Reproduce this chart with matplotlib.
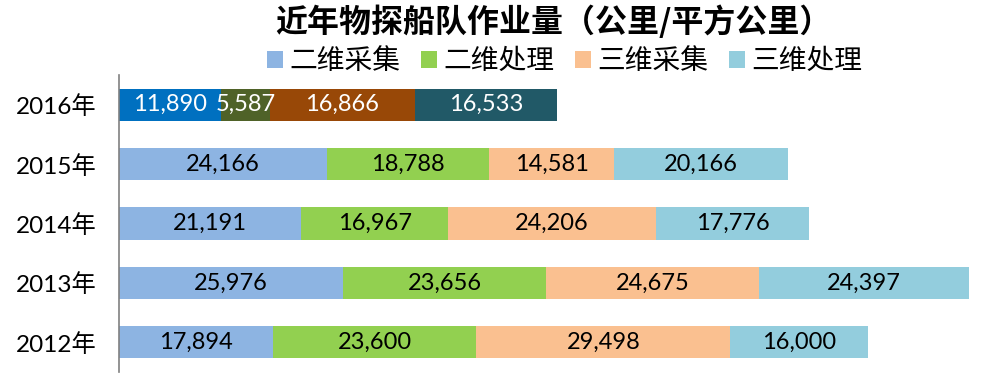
import matplotlib
matplotlib.use("Agg")
import matplotlib.pyplot as plt
from matplotlib.patches import Patch

plt.rcParams['font.family'] = ['Lato', 'Noto Sans CJK SC', 'DejaVu Sans']

years = ['2012年', '2013年', '2014年', '2015年', '2016年']
series = ['二维采集', '二维处理', '三维采集', '三维处理']
v2d_acq = [17894, 25976, 21191, 24166, 11890]
v2d_proc = [23600, 23656, 16967, 18788, 5587]
v3d_acq = [29498, 24675, 24206, 14581, 16866]
v3d_proc = [16000, 24397, 17776, 20166, 16533]
values = [v2d_acq, v2d_proc, v3d_acq, v3d_proc]

colors = ['#8DB4E2', '#92D050', '#FAC090', '#93CDDD']
colors_2016 = ['#0070C0', '#4F6228', '#984807', '#215967']

fig = plt.figure(figsize=(9.87, 3.75), dpi=100)
ax = fig.add_axes([119/987, 3/375, 850/987, 297/375])

left = [0] * len(years)
for s, vals in enumerate(values):
    cols = [colors[s]] * (len(years) - 1) + [colors_2016[s]]
    ax.barh(range(len(years)), vals, left=left, height=0.54, color=cols, edgecolor='none')
    for i, v in enumerate(vals):
        tc = 'white' if i == len(years) - 1 else 'black'
        ax.text(left[i] + v / 2, i, f'{v:,}', ha='center', va='center',
                fontsize=17, color=tc)
    left = [l + v for l, v in zip(left, vals)]

ax.set_xlim(0, max(left))
ax.set_ylim(-0.5, len(years) - 0.5)
ax.set_yticks(range(len(years)))
ax.set_yticklabels(years, fontsize=17.5)
ax.tick_params(axis='y', length=0, pad=16)
ax.set_xticks([])
for sp in ['top', 'right', 'bottom']:
    ax.spines[sp].set_visible(False)
ax.spines['left'].set_color('#808080')
ax.spines['left'].set_linewidth(1.2)

fig.text(553/987, 1 - 22/375, '近年物探船队作业量（公里/平方公里）', ha='center', va='center',
         fontsize=23, fontweight='bold', family=['Noto Sans CJK SC'])

handles = [Patch(facecolor=c, edgecolor='none') for c in colors]
fig.legend(handles, series, loc='center', bbox_to_anchor=(565/987, 1 - 61/375), ncol=4,
           frameon=False, prop={'family': ['Noto Sans CJK SC'], 'size': 20},
           handlelength=0.55, handleheight=0.55, handletextpad=0.25, columnspacing=0.75)

fig.savefig('out.png', dpi=100)
